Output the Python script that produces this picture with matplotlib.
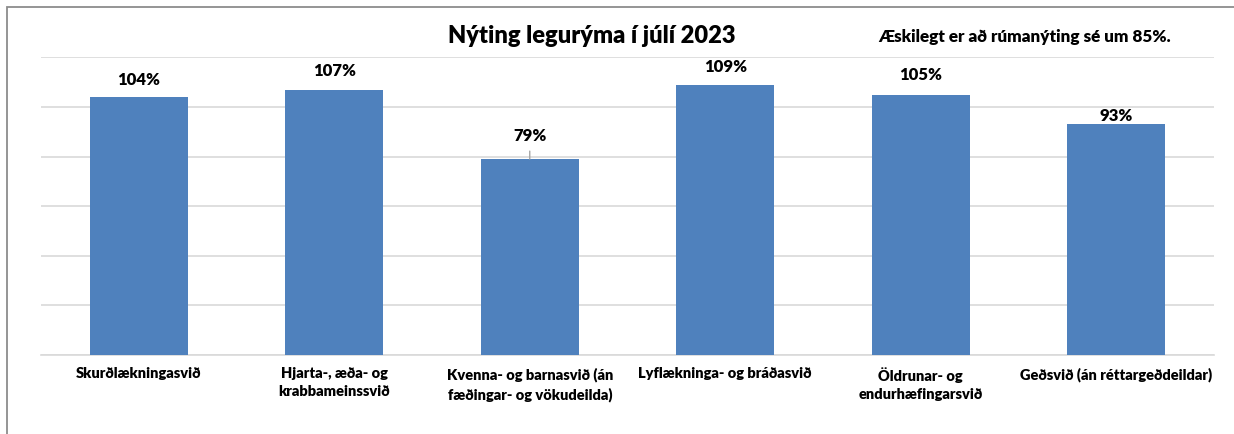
import matplotlib
matplotlib.use("Agg")
import matplotlib.pyplot as plt
from matplotlib.patches import Rectangle

plt.rcParams['font.family'] = ['Lato', 'DejaVu Sans']
plt.rcParams['font.weight'] = 'bold'

categories = [
    "Skurðlækningasvið",
    "Hjarta-, æða- og\nkrabbameinssvið",
    "Kvenna- og barnasvið (án\nfæðingar- og vökudeilda)",
    "Lyflækninga- og bráðasvið",
    "Öldrunar- og\nendurhæfingarsvið",
    "Geðsvið (án réttargeðdeildar)",
]
values = [1.04, 1.07, 0.79, 1.09, 1.05, 0.93]
value_labels = ["104%", "107%", "79%", "109%", "105%", "93%"]
title = "Nýting legurýma í júlí 2023"
note = "Æskilegt er að rúmanýting sé um 85%."
yticks = [0, 0.2, 0.4, 0.6, 0.8, 1.0, 1.2]

# label offsets above bar tops (points) and leader-line flags (styling)
label_offsets = [12.5, 13.5, 16.5, 13, 14, 5.8]
leader = [False, False, True, False, False, False]

W, H = 1234, 434
fig = plt.figure(figsize=(W / 100, H / 100), dpi=100)
ax = fig.add_axes([41 / W, (H - 355) / H, (1214 - 41) / W, (355 - 57.4) / H])

x = list(range(len(categories)))
ax.bar(x, values, width=0.5, color="#4F81BD", zorder=3)
ax.set_xlim(-0.5, len(categories) - 0.5)
ax.set_ylim(0, 1.2)
ax.set_yticks(yticks)
ax.yaxis.grid(True, color="#D9D9D9", linewidth=1.2, zorder=0)
ax.tick_params(axis='y', left=False, labelleft=False)
ax.tick_params(axis='x', length=0, pad=9)
ax.set_xticks(x)
ax.set_xticklabels(categories, fontsize=10.5, fontweight='heavy', linespacing=1.45)
for s in ["left", "right", "top"]:
    ax.spines[s].set_visible(False)
ax.spines["bottom"].set_color("#D9D9D9")
ax.spines["bottom"].set_linewidth(1.2)

for xi, v, lab, off, ld in zip(x, values, value_labels, label_offsets, leader):
    if ld:
        ax.annotate(lab, xy=(xi, v), xytext=(0, off), textcoords="offset points",
                    ha="center", va="center", fontsize=12, fontweight="heavy",
                    annotation_clip=False,
                    arrowprops=dict(arrowstyle="-", color="#A6A6A6", lw=1.0,
                                    shrinkA=3, shrinkB=0))
    else:
        ax.annotate(lab, xy=(xi, v), xytext=(0, off), textcoords="offset points",
                    ha="center", va="center", fontsize=12, fontweight="heavy",
                    annotation_clip=False)

fig.text(591.5 / W, 1 - 36 / H, title, ha="center", va="center",
         fontsize=17, fontweight="heavy")
fig.text(1025 / W, 1 - 37 / H, note, ha="center", va="center",
         fontsize=12.3, fontweight="heavy")

fig.patches.append(Rectangle((6.5 / W, -0.05), 1.2, 1 - 7 / H + 0.05,
                             transform=fig.transFigure, fill=False,
                             edgecolor="#8C8C8C", linewidth=1.3))

fig.savefig("out.png", dpi=100)
